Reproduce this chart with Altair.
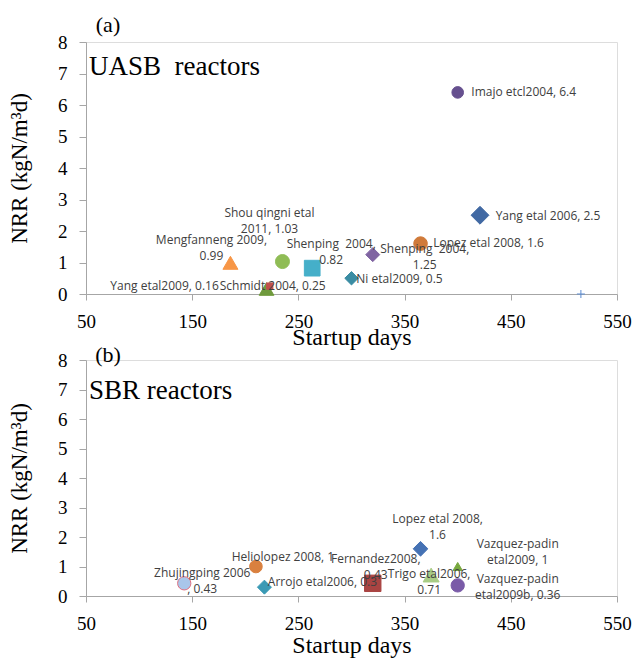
import altair as alt
import pandas as pd

NB = "\u00a0"

# ---------------- Panel (a): UASB reactors ----------------
a_labels = ["Imajo etcl2004, 6.4", "Yang etal 2006, 2.5", "Lopez etal 2008, 1.6",
            "Shenping" + NB + " 2004,\n1.25", "Ni etal2009, 0.5",
            "Shenping" + NB + " 2004,\n0.82", "Shou qingni etal\n2011, 1.03",
            "Mengfanneng 2009,\n0.99", "Yang etal2009, 0.16", "Schmidt 2004, 0.25"]
a_days = [400, 421, 365, 320, 300, 263, 235, 186, 220, 223]
a_nrr = [6.4, 2.5, 1.6, 1.25, 0.5, 0.82, 1.03, 0.99, 0.16, 0.25]
a_shape = ["circle", "diamond", "circle", "diamond", "diamond", "square", "circle",
           "triangle-up", "triangle-up", "square"]
a_color = ["#66508f", "#4169a3", "#d07a3a", "#8064a2", "#3a8ca3", "#45afc9", "#8fbc55",
           "#f79646", "#6f9a3c", "#c0504d"]
a_size = [135, 320, 185, 196, 180, 246, 195, 225, 216, 40]
# label offsets (pixels) of the first text line from its marker
a_dx = [66, 68, 68, 52, 48, 19, -13, -19, -102, 3]
a_dy = [0, 1, -1, -6, 1, -24, -49, -23, -3, 0]

# stray "+" marker on the axis
a_plus_day = [516]
a_plus_nrr = [0]

# ---------------- Panel (b): SBR reactors ----------------
b_labels = ["Zhujingping 2006\n, 0.43", "Heliolopez 2008, 1", "Arrojo etal2006, 0.3",
            "Fernandez2008,\n0.43", "Lopez etal 2008,\n1.6", "Trigo etal2006,\n0.71",
            "Vazquez-padin\netal2009, 1", "Vazquez-padin\netal2009b, 0.36"]
b_days = [142.5, 210, 218, 320, 365, 375, 400, 400]
b_nrr = [0.43, 1.0, 0.3, 0.43, 1.6, 0.71, 1.0, 0.36]
b_shape = ["circle", "circle", "diamond", "square", "diamond", "triangle-up",
           "triangle-up", "circle"]
b_color = ["#a9c6ea", "#d9803f", "#3a9ab5", "#a94442", "#4572b4", "#a9cc85",
           "#77a83e", "#7a5ba8"]
b_stroke = ["#e07080", "#d9803f", "#3a9ab5", "#a94442", "#4572b4", "#a9cc85",
            "#77a83e", "#7a5ba8"]
b_size = [177, 160, 196, 270, 216, 256, 87, 177]
b_dx = [18, 27, 58, 3, 17, -2, 60, 60]
b_dy = [-10, -10, -5, -24, -30, -1, -23, -6]

x_ticks = [50, 150, 250, 350, 450, 550]
y_ticks = [0, 1, 2, 3, 4, 5, 6, 7, 8]

SERIF = "Liberation Serif"
SANS = "Open Sans"


def panel(labels, days, nrr, shape, color, stroke, size, dx, dy,
          name, tag, tag_y, name_y, x_title_pad):
    df = pd.DataFrame({"label": labels, "day": days, "nrr": nrr, "shape": shape,
                       "color": color, "stroke": stroke, "size": size})
    x = alt.X("day:Q", scale=alt.Scale(domain=[50, 550], nice=False, zero=False),
              axis=alt.Axis(values=x_ticks, title="Startup days", grid=False,
                            tickSize=6, labelPadding=12, labelFlush=False,
                            labelOverlap=False,
                            labelFont=SERIF, labelFontSize=19, labelColor="black",
                            titleFont=SERIF, titleFontSize=24, titleFontWeight="normal",
                            titleColor="black", titlePadding=x_title_pad,
                            domainColor="#a6a6a6", tickColor="#a6a6a6"))
    y = alt.Y("nrr:Q", scale=alt.Scale(domain=[0, 8], nice=False, zero=False),
              axis=alt.Axis(values=y_ticks, tickCount=9, title="NRR (kgN/m³d)",
                            grid=False, tickSize=7, labelPadding=12,
                            labelOverlap=False,
                            labelFont=SERIF, labelFontSize=19, labelColor="black",
                            titleFont=SERIF, titleFontSize=23, titleFontWeight="normal",
                            titleColor="black", titlePadding=26,
                            domainColor="#a6a6a6", tickColor="#a6a6a6"))
    pts = alt.Chart(df).mark_point(filled=True, opacity=1, strokeWidth=1).encode(
        x=x, y=y,
        shape=alt.Shape("shape:N", scale=None),
        color=alt.Color("color:N", scale=None),
        stroke=alt.Stroke("stroke:N", scale=None),
        size=alt.Size("size:Q", scale=None),
    )
    layers = [pts]
    for i in range(len(df)):
        layers.append(
            alt.Chart(df.iloc[[i]]).mark_text(
                font=SANS, fontSize=12, color="#404040", align="center",
                baseline="middle", lineBreak="\n", lineHeight=16,
                dx=dx[i], dy=dy[i]).encode(x=x, y=y, text="label:N")
        )
    title_df = pd.DataFrame({"t": [name]})
    layers.append(alt.Chart(title_df).mark_text(
        font=SERIF, fontSize=27, align="left", baseline="alphabetic",
        color="black").encode(x=alt.value(3), y=alt.value(name_y), text="t:N"))
    tag_df = pd.DataFrame({"t": [tag]})
    layers.append(alt.Chart(tag_df).mark_text(
        font=SERIF, fontSize=22, align="center", baseline="middle",
        color="black").encode(x=alt.value(22), y=alt.value(tag_y), text="t:N"))
    return layers, x, y


layers_a, xa, ya = panel(a_labels, a_days, a_nrr, a_shape, a_color, a_color, a_size,
                         a_dx, a_dy, "UASB" + NB + " reactors", "(a)", -17, 33, -6)
plus_df = pd.DataFrame({"day": a_plus_day, "nrr": a_plus_nrr})
plus = alt.Chart(plus_df).mark_point(shape="M-1,0L1,0M0,-1L0,1", filled=False,
                                     size=64, color="#5b8bd0", strokeWidth=1,
                                     opacity=1).encode(x=xa, y=ya)
chart_a = alt.layer(*layers_a, plus).properties(width=531, height=252)

layers_b, xb, yb = panel(b_labels, b_days, b_nrr, b_shape, b_color, b_stroke, b_size,
                         b_dx, b_dy, "SBR reactors", "(b)", -5, 39, 0)
chart_b = alt.layer(*layers_b).properties(width=531, height=236)

chart = alt.vconcat(chart_a, chart_b, spacing=66, bounds="flush").properties(
    padding={"left": 0, "top": 5, "right": 0, "bottom": 0}
).configure_view(stroke="#404040", strokeWidth=1).configure(background="white")

chart.save("out.html", embed_options={"renderer": "svg", "actions": False})
